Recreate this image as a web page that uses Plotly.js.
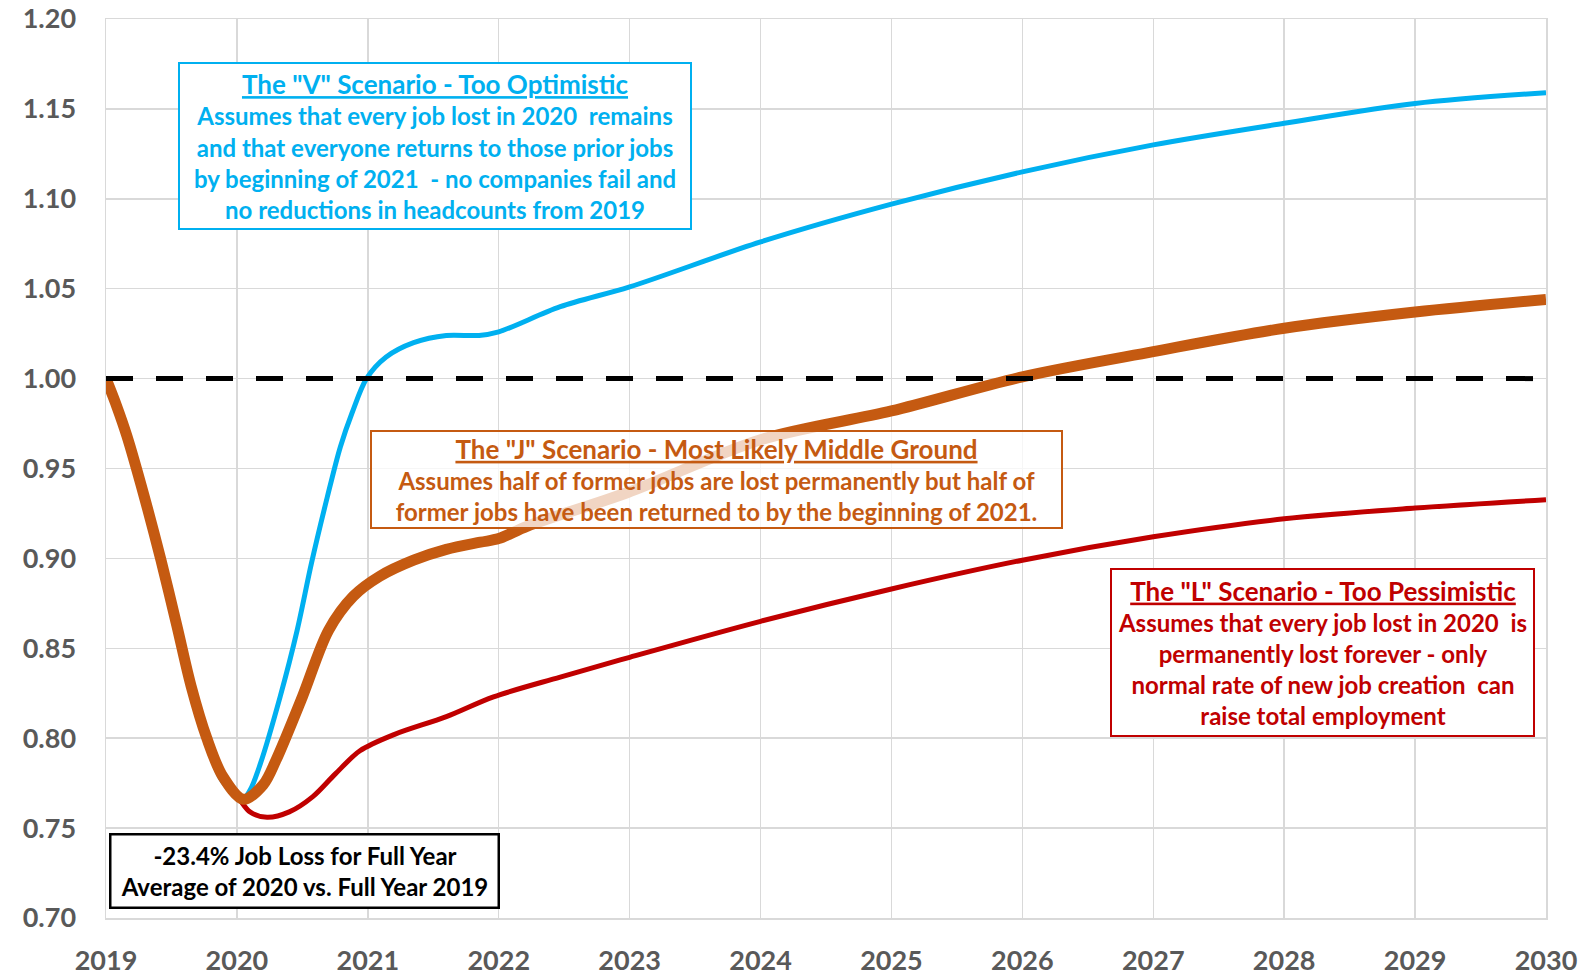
<!DOCTYPE html>
<html>
<head>
<meta charset="utf-8">
<script src="https://cdn.plot.ly/plotly-3.0.1.min.js"></script>
<style>
  html, body { margin: 0; padding: 0; background: #ffffff; }
  #chart { width: 1584px; height: 978px; }
</style>
</head>
<body>
<div id="chart"></div>
<script>
// ---- Data ----
const xV = [2019.0, 2019.08, 2019.16, 2019.29, 2019.42, 2019.54, 2019.65, 2019.77, 2019.89, 2020.04, 2020.1, 2020.18, 2020.33, 2020.46, 2020.57, 2020.69, 2020.79, 2020.88, 2020.99, 2021.14, 2021.35, 2021.6, 2021.85, 2022.0, 2022.47, 2023, 2024, 2025, 2026, 2027, 2028, 2029, 2030];
const yV = [1.000, 0.985, 0.967, 0.934, 0.897, 0.861, 0.827, 0.797, 0.776, 0.766, 0.771, 0.786, 0.823, 0.860, 0.8975, 0.934, 0.962, 0.981, 1.000, 1.012, 1.020, 1.024, 1.024, 1.026, 1.040, 1.051, 1.076, 1.097, 1.115, 1.130, 1.142, 1.153, 1.159];

const xJ = [2019.0, 2019.08, 2019.16, 2019.29, 2019.42, 2019.54, 2019.65, 2019.77, 2019.89, 2020.05, 2020.2, 2020.3, 2020.5, 2020.7, 2020.89, 2021.09, 2021.35, 2021.6, 2021.86, 2022.0, 2022.22, 2022.98, 2024, 2025, 2026, 2027, 2028, 2029, 2030];
const yJ = [1.000, 0.985, 0.968, 0.935, 0.899, 0.863, 0.829, 0.800, 0.779, 0.766, 0.774, 0.788, 0.823, 0.860, 0.879, 0.890, 0.899, 0.905, 0.909, 0.911, 0.918, 0.9365, 0.966, 0.982, 1.001, 1.015, 1.028, 1.037, 1.044];

const xL = [2019.0, 2019.08, 2019.16, 2019.29, 2019.42, 2019.54, 2019.65, 2019.77, 2019.89, 2020.02, 2020.1, 2020.23, 2020.4, 2020.58, 2020.75, 2020.94, 2021.2, 2021.6, 2021.96, 2022.47, 2023, 2024, 2025, 2026, 2027, 2028, 2029, 2030];
const yL = [1.000, 0.985, 0.968, 0.935, 0.899, 0.863, 0.829, 0.800, 0.779, 0.766, 0.759, 0.756, 0.759, 0.7675, 0.780, 0.793, 0.802, 0.812, 0.823, 0.834, 0.845, 0.865, 0.883, 0.899, 0.912, 0.922, 0.928, 0.9326];

const xBase = [2019, 2030];
const yBase = [1.0, 1.0];

const xTicks = [2019, 2020, 2021, 2022, 2023, 2024, 2025, 2026, 2027, 2028, 2029, 2030];
const yTicks = [0.70, 0.75, 0.80, 0.85, 0.90, 0.95, 1.00, 1.05, 1.10, 1.15, 1.20];

const textV = ['The "V" Scenario - Too Optimistic', 'Assumes that every job lost in 2020  remains', 'and that everyone returns to those prior jobs', 'by beginning of 2021  - no companies fail and', 'no reductions in headcounts from 2019'];
const textJ = ['The "J" Scenario - Most Likely Middle Ground', 'Assumes half of former jobs are lost permanently but half of', 'former jobs have been returned to by the beginning of 2021.'];
const textL = ['The "L" Scenario - Too Pessimistic', 'Assumes that every job lost in 2020  is', 'permanently lost forever - only', 'normal rate of new job creation  can', 'raise total employment'];
const textBox = ['-23.4% Job Loss for Full Year', 'Average of 2020 vs. Full Year 2019'];

// ---- Build ----
const BLUE = '#00B0F0', ORANGE = '#C55A11', RED = '#C00000';
const FONT = 'Lato, "Open Sans", sans-serif';

function boxText(lines, titleSize, bodySize) {
  const t = '<span style="text-decoration:underline;font-size:' + titleSize + 'px">' + lines[0] + '</span>';
  const b = lines.slice(1).map(l => '<span style="font-size:' + bodySize + 'px">' + l + '</span>');
  return [t].concat(b).join('<br>');
}
function plainText(lines, size) {
  return lines.map(l => '<span style="font-size:' + size + 'px">' + l + '</span>').join('<br>');
}

const SM = 0.9;
const traces = [
  { x: xL, y: yL, type: 'scatter', mode: 'lines', line: { color: RED, width: 5, shape: 'spline', smoothing: SM }, hoverinfo: 'skip' },
  { x: xV, y: yV, type: 'scatter', mode: 'lines', line: { color: BLUE, width: 5, shape: 'spline', smoothing: SM }, hoverinfo: 'skip' },
  { x: xJ, y: yJ, type: 'scatter', mode: 'lines', line: { color: ORANGE, width: 11, shape: 'spline', smoothing: SM }, hoverinfo: 'skip' },
  { x: xBase, y: yBase, type: 'scatter', mode: 'lines', line: { color: '#000000', width: 5, dash: '27px,23px' }, hoverinfo: 'skip' }
];

const PL = 106, PR = 1546, PT = 19, PB = 918;
function px2paperX(p) { return (p - PL) / (PR - PL); }
function px2paperY(p) { return (PB - p) / (PB - PT); }

function ann(text, color, cx, cy, w, h, bw, bg) {
  return {
    xref: 'paper', yref: 'paper', x: px2paperX(cx), y: px2paperY(cy),
    xanchor: 'center', yanchor: 'middle', showarrow: false,
    text: text, align: 'center', valign: 'middle',
    font: { family: FONT, size: 24, color: color, weight: 'bold' },
    bordercolor: color, borderwidth: bw, borderpad: 0,
    bgcolor: bg, width: w - 2 * bw, height: h - 2 * bw
  };
}

const layout = {
  width: 1584, height: 978,
  margin: { l: PL, r: 1584 - PR, t: PT, b: 978 - PB },
  paper_bgcolor: '#ffffff', plot_bgcolor: '#ffffff',
  showlegend: false,
  font: { family: FONT },
  xaxis: {
    range: [2019, 2030], tickvals: xTicks, ticktext: xTicks.map(String),
    showgrid: true, gridcolor: '#D9D9D9', gridwidth: 1.5,
    showline: true, linecolor: '#D9D9D9', linewidth: 1.5, mirror: true,
    zeroline: false, ticks: '', ticklabelstandoff: 18,
    tickfont: { family: FONT, size: 27, color: '#595959', weight: 'bold' }
  },
  yaxis: {
    range: [0.70, 1.20], tickvals: yTicks, ticktext: yTicks.map(v => v.toFixed(2)),
    showgrid: true, gridcolor: '#D9D9D9', gridwidth: 1.5,
    showline: true, linecolor: '#D9D9D9', linewidth: 1.5, mirror: true,
    zeroline: false, ticks: '', ticklabelstandoff: 23,
    tickfont: { family: FONT, size: 27, color: '#595959', weight: 'bold' }
  },
  annotations: [
    ann(boxText(textV, 26, 24), BLUE, 435, 146, 514, 168, 2, '#ffffff'),
    ann(boxText(textJ, 26, 24), ORANGE, 716, 480, 693, 99, 2, 'rgba(255,255,255,0.75)'),
    ann(boxText(textL, 26, 24), RED, 1322, 652, 425, 169, 2, '#ffffff'),
    ann(plainText(textBox, 24), '#000000', 304, 871, 391, 76, 2.5, '#ffffff')
  ]
};

Plotly.newPlot('chart', traces, layout, { staticPlot: true, displayModeBar: false });
</script>
</body>
</html>
